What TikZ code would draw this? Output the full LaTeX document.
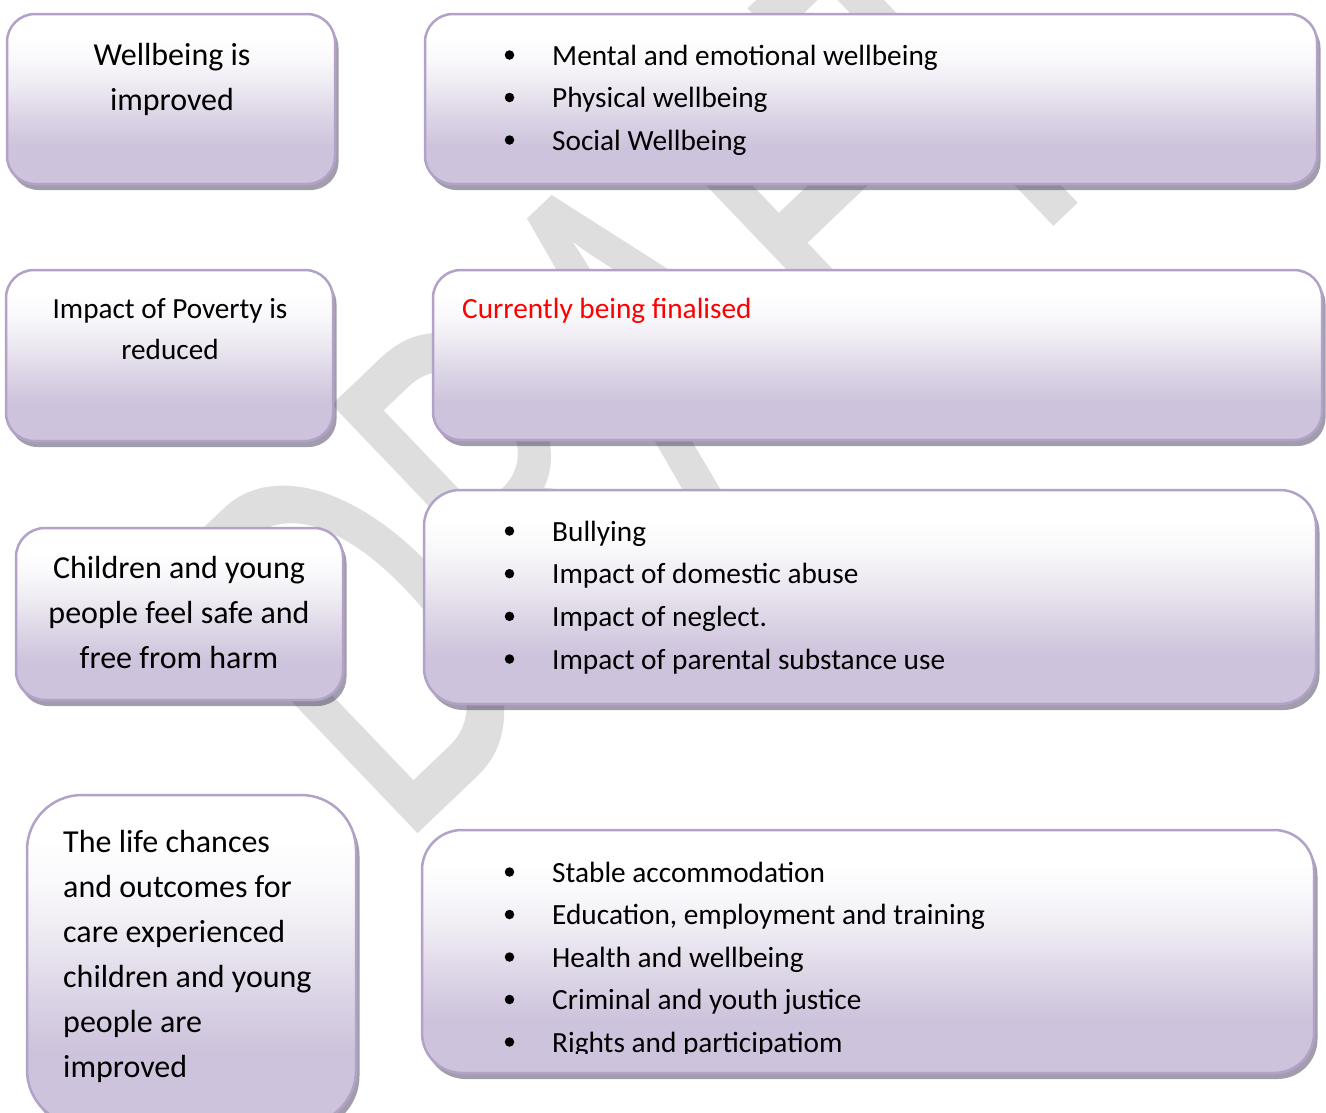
\documentclass[tikz,border=0pt]{standalone}
\usepackage{fontspec}
\setmainfont{Carlito}
\usetikzlibrary{shadows}

\definecolor{boxline}{RGB}{179,162,199}
\definecolor{boxlav}{RGB}{205,195,220}
\definecolor{boxmid}{RGB}{222,215,231}
\definecolor{boxlight}{RGB}{236,232,241}
\definecolor{boxpale}{RGB}{248,247,250}
\definecolor{shadowc}{RGB}{70,60,90}
\definecolor{wmgray}{RGB}{222,222,222}

% white at the top, lavender at the bottom
\pgfdeclareverticalshading{boxshade}{100bp}{color(0bp)=(boxlav); color(36bp)=(boxlav); color(46bp)=(boxmid); color(53bp)=(boxlight); color(61bp)=(boxpale); color(68bp)=(white); color(100bp)=(white)}

\tikzset{
  wbox/.style={draw=boxline, line width=2.5pt, shade, shading=boxshade, inner sep=0pt,
    drop shadow={shadow xshift=3.5pt, shadow yshift=-6pt, fill=shadowc, opacity=0.5}},
  bigtxt/.style={font=\fontsize{32}{45}\selectfont, inner sep=0pt},
  smalltxt/.style={font=\fontsize{29.3}{42.5}\selectfont, inner sep=0pt},
  bdot/.style={circle, fill=black, inner sep=0pt, minimum size=9.5pt},
  wmtext/.style={font=\fontsize{575}{575}\selectfont, text=wmgray, inner sep=0pt},
}

\begin{document}
\begin{tikzpicture}[x=1pt,y=-1pt]
\path[use as bounding box] (0,0) rectangle (1326,1112);
\clip (0,0) rectangle (1326,1112);
\fill[white] (0,0) rectangle (1326,1112);

% watermark
\begin{scope}[shift={(420,832)}, rotate=43.7, xscale=0.657]
  \node[wmtext, anchor=base west, transform shape] (wm) at (-43,0) {DRAFT};
\end{scope}

% outcome boxes (left) and their themes (right)
\node[wbox, rounded corners=28pt, minimum width=328pt, minimum height=170pt] (a1) at (171,99) {};
\node[wbox, rounded corners=28pt, minimum width=892pt, minimum height=170pt] (b1) at (871,99) {};
\node[wbox, rounded corners=28pt, minimum width=327pt, minimum height=171pt] (a2) at (169.5,355.5) {};
\node[wbox, rounded corners=28pt, minimum width=889pt, minimum height=170pt] (b2) at (877.5,355) {};
\node[wbox, rounded corners=29pt, minimum width=327pt, minimum height=172pt] (a3) at (179.5,614) {};
\node[wbox, rounded corners=36pt, minimum width=892pt, minimum height=214pt] (b3) at (870,597) {};
\node[wbox, rounded corners=55pt, minimum width=329pt, minimum height=330pt] (a4) at (191.5,960) {};
\node[wbox, rounded corners=40pt, minimum width=892pt, minimum height=243pt] (b4) at (868,951.5) {};

% left texts
\node[bigtxt, anchor=base] (a1l1) at (172,65) {Wellbeing is};
\node[bigtxt, anchor=base] (a1l2) at (172,110) {improved};

\node[font=\fontsize{29.2}{41}\selectfont, inner sep=0pt, anchor=base] (a2l1) at (170,318) {Impact of Poverty is};
\node[font=\fontsize{29.2}{41}\selectfont, inner sep=0pt, anchor=base] (a2l2) at (170,359) {reduced};

\node[bigtxt, anchor=base] (a3l1) at (179,578) {Children and young};
\node[bigtxt, anchor=base] (a3l2) at (179,623) {people feel safe and};
\node[bigtxt, anchor=base] (a3l3) at (179,668) {free from harm};

\foreach \t [count=\i] in {The life chances, and outcomes for, care experienced, children and young, people are, improved}
  \node[bigtxt, anchor=base west] (a4l\i) at (63,{852+(\i-1)*45}) {\t};

% right texts
\foreach \t [count=\i] in {Mental and emotional wellbeing, Physical wellbeing, Social Wellbeing} {
  \node[bdot] (b1d\i) at (509.5,{55+(\i-1)*42.5}) {};
  \node[smalltxt, anchor=base west] (b1t\i) at (552,{65+(\i-1)*42.5}) {\t};
}

\node[smalltxt, anchor=base west, text=red] (b2t) at (462,318) {Currently being finalised};

\foreach \t [count=\i] in {Bullying, Impact of domestic abuse, Impact of neglect., Impact of parental substance use} {
  \node[bdot] (b3d\i) at (509.5,{531+(\i-1)*42.67}) {};
  \node[smalltxt, anchor=base west] (b3t\i) at (552,{541+(\i-1)*42.67}) {\t};
}

\begin{scope}
  \clip (422,830) rectangle (1314,1053);
  \foreach \t [count=\i] in {Stable accommodation, {Education, employment and training}, Health and wellbeing, Criminal and youth justice, Rights and participatiom} {
    \node[bdot] (b4d\i) at (509.5,{872+(\i-1)*42.5}) {};
    \node[smalltxt, anchor=base west] (b4t\i) at (552,{882+(\i-1)*42.5}) {\t};
  }
\end{scope}
\end{tikzpicture}
\end{document}
